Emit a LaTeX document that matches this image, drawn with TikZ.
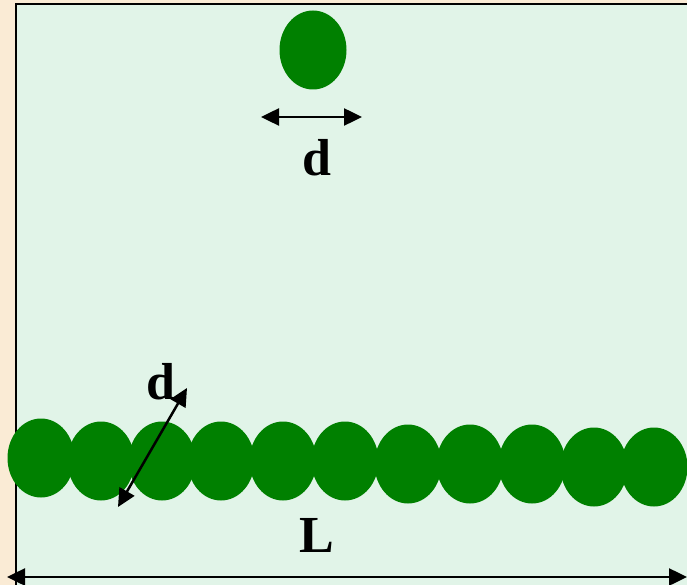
\documentclass[tikz,border=0pt]{standalone}
\usepackage{fontspec}
\setmainfont{Liberation Serif}
\usetikzlibrary{shapes.geometric,arrows.meta}
\definecolor{beige}{HTML}{FAEBD5}
\definecolor{panel}{HTML}{E1F4E8}
\definecolor{ball}{HTML}{008000}
\begin{document}
\begin{tikzpicture}[x=1pt,y=-1pt,
  ballnode/.style={ellipse,fill=ball,draw=none,inner sep=0pt,minimum width=67pt,minimum height=79pt},
  lbl/.style={font=\bfseries\fontsize{52}{60}\selectfont,inner sep=0pt,anchor=base},
  tip/.tip={Triangle[length=18pt,width=17pt]},
  dim/.style={line width=2.5pt,tip-tip}]
\useasboundingbox (0,0) rectangle (687,585);
\fill[beige] (0,0) rectangle (687,585);
\fill[panel] (16,4) rectangle (687,585);
\draw[line width=2.2pt] (16,585) -- (16,4) -- (687,4);
% single particle
\node[ballnode] (p) at (313,50) {};
\coordinate (pl) at (261,117);
\coordinate (pr) at (362,117);
\draw[dim] (pl) -- (pr);
\node[lbl] (d1) at (317,176) {d};
% chain
\foreach \i/\x/\y in {1/41/458,2/101/461,3/162/461,4/221/461,5/283/461,6/345/461,7/408/464,8/470/464,9/532/464,10/594/467,11/654/467}
  \node[ballnode] (c\i) at (\x,\y) {};
\coordinate (da) at (118,507);
\coordinate (db) at (187,388);
\draw[dim] (da) -- (db);
\node[lbl] (d2) at (161,399) {d};
\coordinate (la) at (7,577);
\coordinate (lb) at (687,577);
\draw[dim] (la) -- (lb);
\node[lbl] (L) at (317,552) {L};
\end{tikzpicture}
\end{document}
